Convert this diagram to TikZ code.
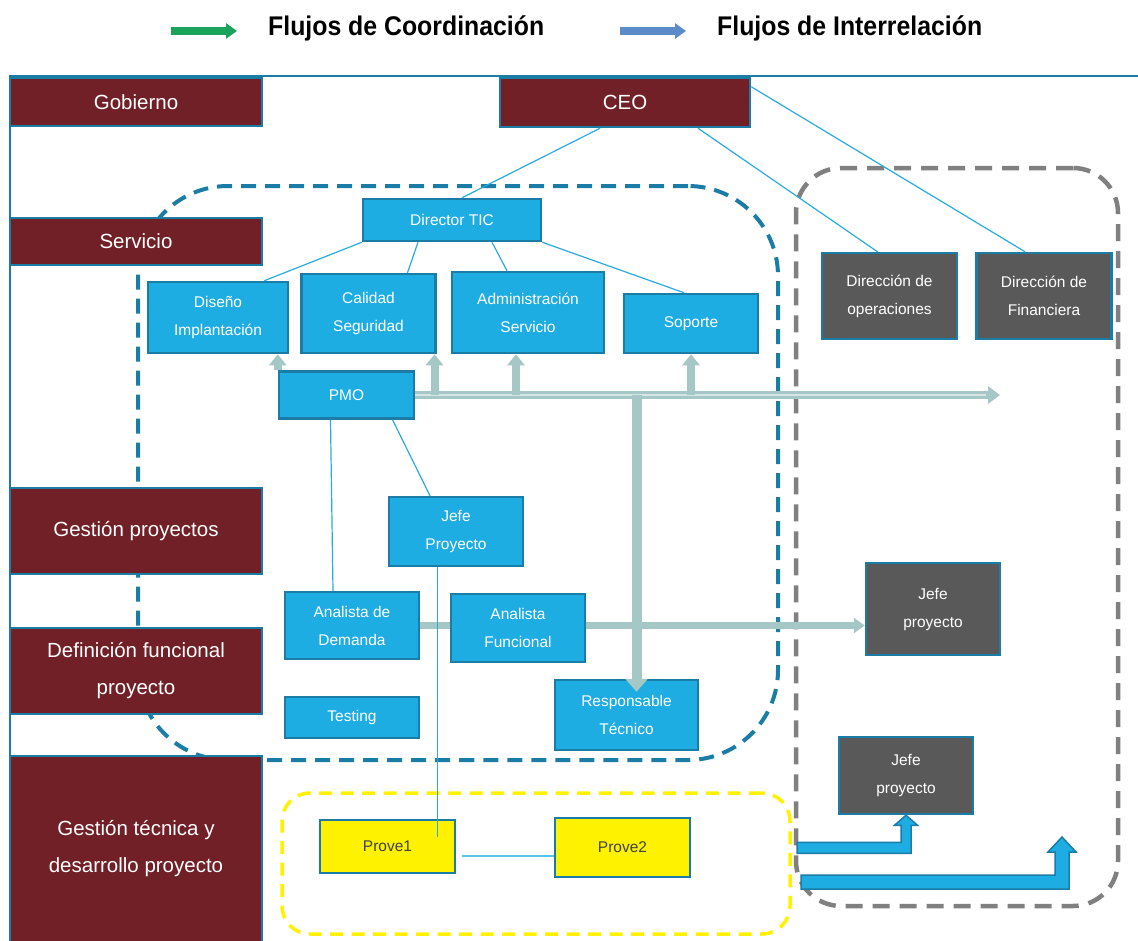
\documentclass[tikz,border=0pt]{standalone}
\usepackage{fontspec}
\setmainfont{Liberation Sans}
\newfontfamily\legendfont[FakeStretch=0.92]{Liberation Sans}
\usetikzlibrary{positioning,arrows.meta,backgrounds,calc}

\definecolor{govred}{HTML}{722027}
\definecolor{edgeblue}{HTML}{1B7DA6}
\definecolor{ticblue}{HTML}{1EADE3}
\definecolor{extgray}{HTML}{595959}
\definecolor{linkblue}{HTML}{29ABE2}
\definecolor{provlinkblue}{HTML}{5BC4EA}
\definecolor{flowteal}{HTML}{A5C8C6}
\definecolor{coordgreen}{HTML}{1AA35A}
\definecolor{interblue}{HTML}{5B8BC9}
\definecolor{provtext}{HTML}{404040}
\definecolor{areagray}{HTML}{808080}

\begin{document}
\begin{tikzpicture}[
  x=1pt, y=-1pt,
  every node/.style={font=\fontsize{15.5}{28}\selectfont, text=white},
  level/.style={rectangle, draw=edgeblue, line width=2.5pt, fill=govred, align=center,
                inner sep=0pt, minimum width=252pt, font=\fontsize{20.5}{37}\selectfont},
  unit/.style={rectangle, draw=edgeblue, line width=2.5pt, fill=ticblue, align=center,
               inner sep=0pt, minimum width=134pt},
  ext/.style={unit, fill=extgray},
  prov/.style={unit, fill=yellow, text=provtext},
  ticarea/.style={rectangle, draw=edgeblue, line width=4pt, dash pattern=on 15pt off 9pt,
                  rounded corners=90pt, inner sep=0pt},
  extarea/.style={rectangle, draw=areagray, line width=4.5pt, dash pattern=on 17pt off 10pt,
                  rounded corners=45pt, inner sep=0pt},
  provarea/.style={rectangle, draw=yellow, line width=3.5pt, dash pattern=on 13pt off 8.5pt,
                   rounded corners=28pt, inner sep=0pt},
  legend/.style={font=\legendfont\bfseries\fontsize{27}{30}\selectfont, text=black, inner sep=0pt},
  link/.style={linkblue, line width=1.2pt},
  tealflow/.style={flowteal, line width=8pt, -{Triangle[length=12pt,width=17pt]}},
  tealup/.style={flowteal, line width=8pt, -{Triangle[length=11pt,width=17pt]}},
  interflow/.style={fill=ticblue, draw=edgeblue, line width=1.5pt, line join=miter},
  legflow/.style={line width=8pt, -{Triangle[length=11pt,width=15pt]}}
]
\useasboundingbox (0,0) rectangle (1138,940);

% legend
\node[legend, anchor=base west] (lgcoord) at (268,35) {Flujos de Coordinación};
\node[legend, anchor=base west] (lginter) at (717,35) {Flujos de Interrelación};
\draw[legflow, coordgreen] ([xshift=-97pt,yshift=4pt]lgcoord.base west) -- ([xshift=-31pt,yshift=4pt]lgcoord.base west);
\draw[legflow, interblue] ([xshift=-97pt,yshift=4pt]lginter.base west) -- ([xshift=-31pt,yshift=4pt]lginter.base west);

% levels on the left
\node[level, minimum height=48pt] (gob) at (136,102) {Gobierno};
\node[level, minimum height=47pt] (serv) at (136,241.5) {Servicio};
\node[level, minimum height=86pt] (gproy) at (136,531) {Gestión proyectos};
\node[level, minimum height=86pt] (dfun) at (136,671) {Definición funcional\\proyecto};
\node[level, minimum height=186pt] (gtec) at (136,849) {Gestión técnica y\\desarrollo proyecto};
\node[level, minimum width=250pt, minimum height=49pt] (ceo) at (625,102.5) {CEO};

% TIC area
\node[unit, minimum width=178pt, minimum height=42pt] (dtic) at (452,220) {Director TIC};
\node[unit, minimum width=140pt, minimum height=71pt] (dis) at (218,317.5) {Diseño\\Implantación};
\node[unit, minimum height=79pt, right=11pt of dis.south east, anchor=south west] (cal) {Calidad\\Seguridad};
\node[unit, minimum width=152pt, minimum height=81pt] (adm) at (528,312.5) {Administración\\Servicio};
\node[unit, minimum height=59pt] (sop) at (691,323.5) {Soporte};
\node[unit, minimum width=135pt, minimum height=47pt] (pmo) at (346.5,395) {PMO};
\node[unit, minimum height=69pt] (jp1) at (456,531.5) {Jefe\\Proyecto};
\node[unit, minimum height=67pt] (ad) at (352,625.5) {Analista de\\Demanda};
\node[unit, minimum height=68pt] (af) at (518,628) {Analista\\Funcional};
\node[unit, minimum height=41pt] (test) at (352,717.5) {Testing};
\node[unit, minimum width=143pt, minimum height=70pt] (rt) at (626.5,715) {Responsable\\Técnico};

% external area
\node[ext, minimum width=135pt, minimum height=86pt] (dops) at (889.5,296) {Dirección de\\operaciones};
\node[ext, minimum width=135pt, minimum height=86pt, right=17pt of dops] (dfin) {Dirección de\\Financiera};
\node[ext, minimum height=92pt] (jp2) at (933,609) {Jefe\\proyecto};
\node[ext, minimum height=77pt] (jp3) at (906,775.5) {Jefe\\proyecto};

% providers
\node[prov, minimum width=135pt, minimum height=53pt] (pr1) at (387.5,846.5) {Prove1};
\node[prov, minimum width=135pt, minimum height=59pt] (pr2) at (622.5,847.5) {Prove2};

\begin{scope}[on background layer]
  % frame and areas
  \draw[edgeblue, line width=2.5pt] (10,942) -- (10,76) -- (1140,76);
  \node[ticarea, minimum width=640pt, minimum height=574pt] (areatic) at (458,473) {};
  \node[extarea, minimum width=322pt, minimum height=738pt] (areaext) at (957,537) {};
  \node[provarea, minimum width=508pt, minimum height=141pt] (areaprov) at (536,863.5) {};

  % coordination flows
  \coordinate (pmoend) at (1000,395);
  \draw[tealflow] (pmo.east) -- (pmoend);
  \draw[flowteal!45!white, line width=2pt] (pmo.east) -- ([xshift=-14pt]pmoend);
  \draw[tealup] (pmo.north west) -- (pmo.north west |- dis.south);
  \foreach \b/\dx in {cal/66, adm/-12, sop/0}
    \draw[tealup] ($(\b.south |- pmo.east)+(\dx,0)$) -- ($(\b.south)+(\dx,0)$);
  \draw[tealflow, line width=6.5pt, -{Triangle[length=11pt,width=15pt]}] (ad.east) -- ([yshift=-16.5pt]jp2.west);
\end{scope}

\draw[tealflow, line width=10pt, -{Triangle[length=13pt,width=22pt]}]
  ($(rt.north |- pmo.east)+(10,0)$) -- ($(rt.north)+(10,13)$);

% hierarchy links
\draw[link] ([xshift=-25pt]ceo.south) -- ([xshift=10pt]dtic.north);
\draw[link] ([xshift=73pt]ceo.south) -- ([xshift=-12pt]dops.north);
\draw[link] ([yshift=-10pt]ceo.north east) -- ([xshift=-19pt]dfin.north);
\draw[link] (dtic.south west) -- ([xshift=-25pt]dis.north east);
\draw[link] ([xshift=-34pt]dtic.south) -- ([xshift=39pt]cal.north);
\draw[link] ([xshift=40pt]dtic.south) -- ([xshift=-21pt]adm.north);
\draw[link] (dtic.south east) -- ([xshift=-7pt]sop.north);
\draw[link] ([xshift=-16pt]pmo.south) -- ([xshift=-19pt]ad.north);
\draw[link] ([xshift=46pt]pmo.south) -- ([xshift=-26pt]jp1.north);
\coordinate (pr1in) at ([xshift=50pt,yshift=-18pt]pr1.north);
\draw[link] (jp1.south -| pr1in) -- (pr1in);
\draw[provlinkblue, line width=2pt] ([xshift=6pt,yshift=-9pt]pr1.east) -- ([yshift=-8pt]pr2.west);

% interrelation flows
\draw[interflow] (jp3.south) -- ++(11.5,10) -- ++(-6.5,0) -- ++(0,28) -- ++(-114,0)
  -- ++(0,-11) -- ++(104,0) -- ++(0,-17) -- ++(-6.5,0) -- cycle;
\coordinate (extin) at (1062,837);
\draw[interflow] (extin) -- ++(14,15) -- ++(-7,0) -- ++(0,37) -- ++(-268,0)
  -- ++(0,-14) -- ++(254,0) -- ++(0,-23) -- ++(-7,0) -- cycle;
\end{tikzpicture}
\end{document}
